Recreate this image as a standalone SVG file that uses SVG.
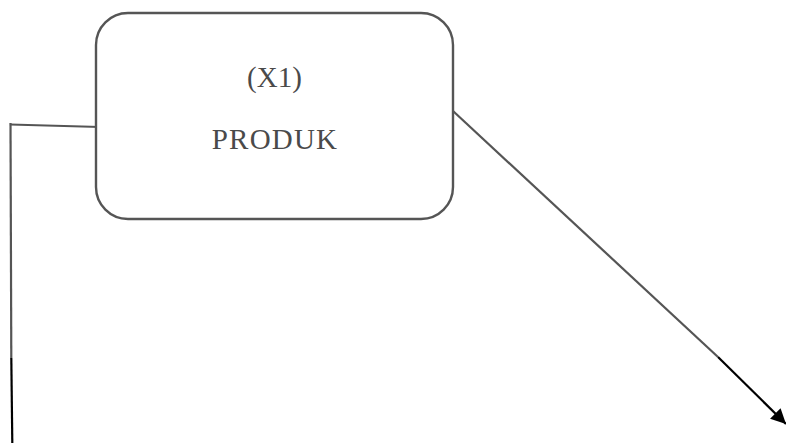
<svg xmlns="http://www.w3.org/2000/svg" width="786" height="443" viewBox="0 0 786 443">
<style>
.box{fill:#fff;stroke:#555;stroke-width:2.4}
.lbl{font-family:"Liberation Serif","Times New Roman",serif;font-size:29px;fill:#4a4a4a;text-anchor:middle}
.gl{stroke:#555;stroke-width:2.2;fill:none}
.bl{stroke:#000;stroke-width:2.2;fill:none}
</style>
<defs>
<marker id="ah2" viewBox="0 0 10 10" refX="10" refY="5" markerWidth="18" markerHeight="15" markerUnits="userSpaceOnUse" orient="auto">
<path d="M0,0 L10,5 L0,10 z" fill="#000"/>
</marker>
</defs>
<rect width="786" height="443" fill="#fff"/>
<g id="connectors">
<path class="gl" d="M10,124.5 L100,127"/>
<path class="gl" d="M10.5,123 L11.3,358"/>
<path class="bl" d="M11.3,358 L12.3,443"/>
<path class="gl" d="M453,111 L718,357"/>
<path class="bl" d="M718,357 L786,424" marker-end="url(#ah2)"/>
</g>
<g id="node-x1">
<rect class="box" x="96" y="13" width="357" height="206" rx="32" ry="32"/>
<text class="lbl" x="274.5" y="87">(X1)</text>
<text class="lbl" x="275" y="149" letter-spacing="1.2">PRODUK</text>
</g>
</svg>
